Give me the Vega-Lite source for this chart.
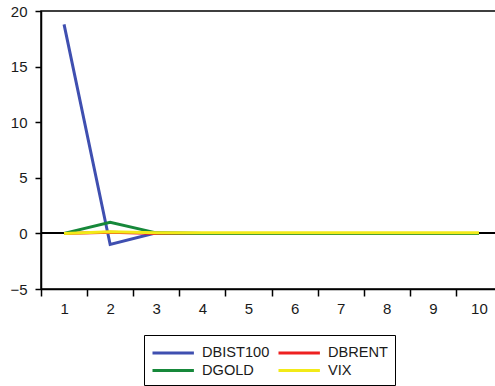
{
  "$schema": "https://vega.github.io/schema/vega-lite/v6.json",
  "autosize": "none",
  "padding": {"left": 41, "top": 11, "right": 0, "bottom": 97},
  "width": 461,
  "height": 278,
  "background": "white",
  "config": {
    "font": "Liberation Sans",
    "view": {"stroke": "black", "strokeWidth": 1.5}
  },
  "data": {
    "values": [
      {"period": 1, "series": "DBIST100", "value": 18.8},
      {"period": 2, "series": "DBIST100", "value": -1.0},
      {"period": 3, "series": "DBIST100", "value": 0.05},
      {"period": 4, "series": "DBIST100", "value": 0},
      {"period": 5, "series": "DBIST100", "value": 0},
      {"period": 6, "series": "DBIST100", "value": 0},
      {"period": 7, "series": "DBIST100", "value": 0},
      {"period": 8, "series": "DBIST100", "value": 0},
      {"period": 9, "series": "DBIST100", "value": 0},
      {"period": 10, "series": "DBIST100", "value": 0},
      {"period": 1, "series": "DBRENT", "value": 0},
      {"period": 2, "series": "DBRENT", "value": 0.1},
      {"period": 3, "series": "DBRENT", "value": 0},
      {"period": 4, "series": "DBRENT", "value": 0},
      {"period": 5, "series": "DBRENT", "value": 0},
      {"period": 6, "series": "DBRENT", "value": 0},
      {"period": 7, "series": "DBRENT", "value": 0},
      {"period": 8, "series": "DBRENT", "value": 0},
      {"period": 9, "series": "DBRENT", "value": 0},
      {"period": 10, "series": "DBRENT", "value": 0},
      {"period": 1, "series": "DGOLD", "value": 0},
      {"period": 2, "series": "DGOLD", "value": 1.0},
      {"period": 3, "series": "DGOLD", "value": 0.05},
      {"period": 4, "series": "DGOLD", "value": 0},
      {"period": 5, "series": "DGOLD", "value": 0},
      {"period": 6, "series": "DGOLD", "value": 0},
      {"period": 7, "series": "DGOLD", "value": 0},
      {"period": 8, "series": "DGOLD", "value": 0},
      {"period": 9, "series": "DGOLD", "value": 0},
      {"period": 10, "series": "DGOLD", "value": 0},
      {"period": 1, "series": "VIX", "value": 0},
      {"period": 2, "series": "VIX", "value": 0.15},
      {"period": 3, "series": "VIX", "value": 0.05},
      {"period": 4, "series": "VIX", "value": 0.05},
      {"period": 5, "series": "VIX", "value": 0.05},
      {"period": 6, "series": "VIX", "value": 0.05},
      {"period": 7, "series": "VIX", "value": 0.05},
      {"period": 8, "series": "VIX", "value": 0.05},
      {"period": 9, "series": "VIX", "value": 0.05},
      {"period": 10, "series": "VIX", "value": 0.05}
    ]
  },
  "layer": [
    {
      "mark": {"type": "rule", "color": "black", "strokeWidth": 1.2},
      "encoding": {"y": {"datum": 0, "type": "quantitative"}}
    },
    {
      "mark": {"type": "line", "strokeWidth": 3},
      "encoding": {
        "x": {
          "field": "period",
          "type": "ordinal",
          "scale": {"type": "band", "paddingInner": 0, "paddingOuter": 0},
          "axis": {
            "title": null,
            "labelAngle": 0,
            "tickBand": "extent",
            "tickSize": 7,
            "tickColor": "black",
            "tickWidth": 1.5,
            "domainColor": "black",
            "domainWidth": 1.5,
            "labelFontSize": 15,
            "labelColor": "#1a1a1a",
            "labelPadding": 5,
            "grid": false
          }
        },
        "y": {
          "field": "value",
          "type": "quantitative",
          "scale": {"domain": [-5, 20], "nice": false, "zero": false},
          "axis": {
            "title": null,
            "values": [-5, 0, 5, 10, 15, 20],
            "tickSize": 6,
            "tickColor": "black",
            "tickWidth": 1.5,
            "domainColor": "black",
            "domainWidth": 1.5,
            "labelFontSize": 15,
            "labelColor": "#1a1a1a",
            "labelPadding": 8,
            "grid": false
          }
        },
        "color": {
          "field": "series",
          "type": "nominal",
          "sort": ["DBIST100", "DBRENT", "DGOLD", "VIX"],
          "scale": {
            "domain": ["DBIST100", "DBRENT", "DGOLD", "VIX"],
            "range": ["#3f4fb0", "#ee2020", "#16883a", "#f2ea18"]
          },
          "legend": {
            "title": null,
            "orient": "none",
            "legendX": 103,
            "legendY": 324,
            "columns": 2,
            "direction": "horizontal",
            "symbolType": "M-1,0H3.6",
            "symbolSize": 324,
            "symbolStrokeWidth": 3,
            "labelFontSize": 14.6,
            "labelColor": "#1a1a1a",
            "labelOffset": 30,
            "columnPadding": 2,
            "rowPadding": 0,
            "padding": 7,
            "strokeColor": "black",
            "fillColor": "white"
          }
        }
      }
    }
  ]
}
